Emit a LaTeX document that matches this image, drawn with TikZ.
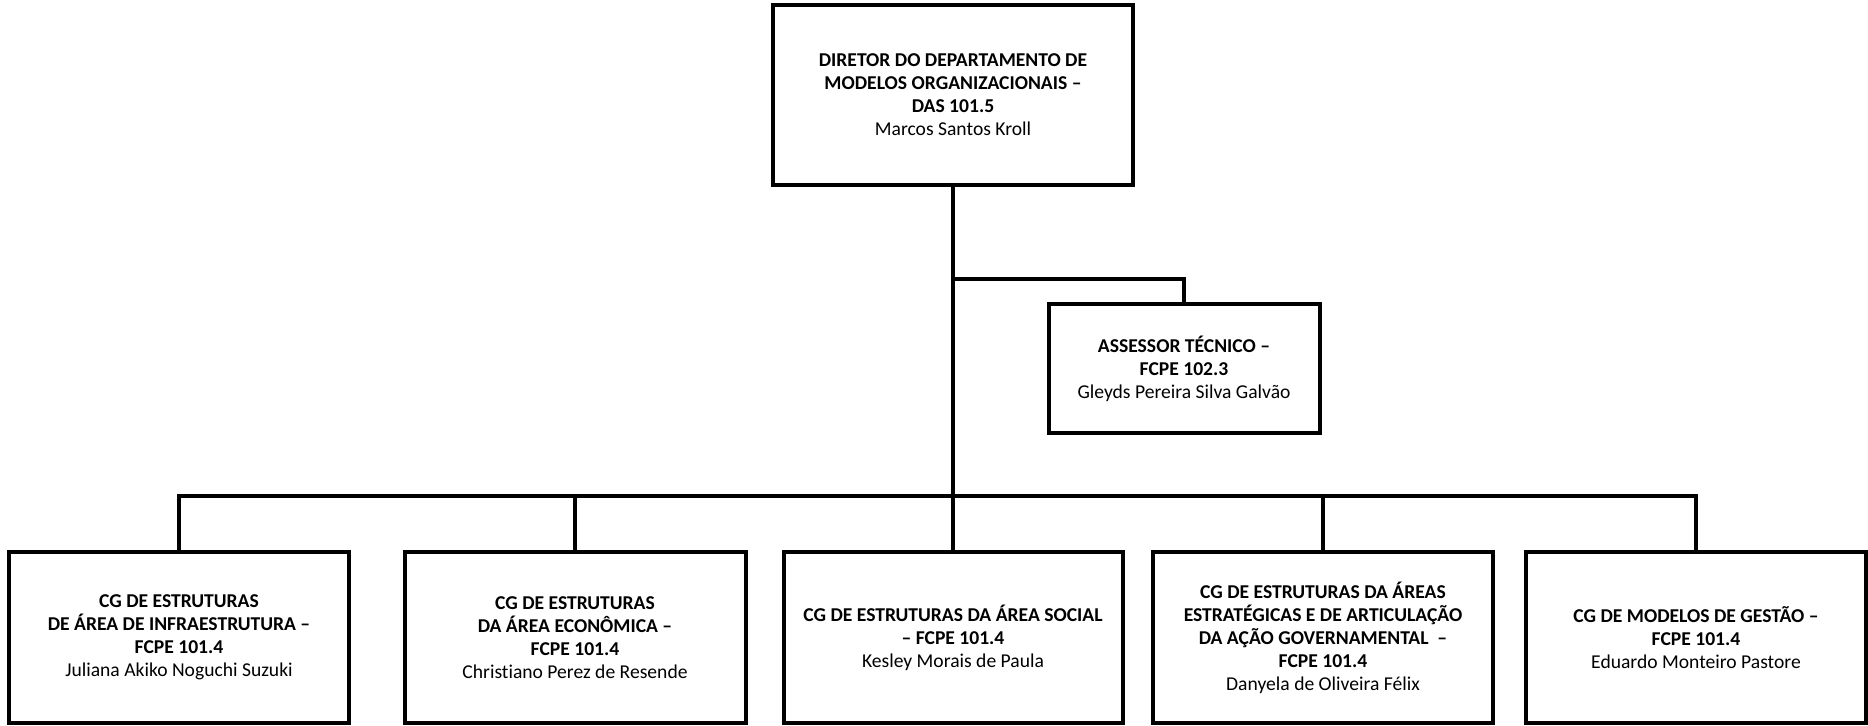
\documentclass[tikz,border=0pt]{standalone}
\usepackage{fontspec}
\setmainfont{Carlito}[Ligatures=NoCommon]
\usetikzlibrary{shadows}
\begin{document}
\begin{tikzpicture}[x=0.5pt,y=-0.5pt,
  box/.style={draw=black, line width=2pt, fill=white, rectangle, align=center,
    inner sep=0pt, outer sep=0pt,
    font=\fontsize{9.8}{11.5}\selectfont,
    drop shadow={shadow xshift=1.2pt, shadow yshift=-1.2pt, fill=black, opacity=0.25}},
  conn/.style={draw=black, line width=2pt, line join=miter}]
\useasboundingbox (0,0) rectangle (1868,725);
\node[box, minimum width=180pt, minimum height=90pt] (top) at (953,95)
  {\textbf{DIRETOR DO DEPARTAMENTO DE}\\\textbf{MODELOS ORGANIZACIONAIS –}\\\textbf{DAS 101.5}\\Marcos Santos Kroll};
\node[box, minimum width=135.5pt, minimum height=64.5pt] (asr) at (1184,368.5)
  {\textbf{ASSESSOR TÉCNICO –}\\\textbf{FCPE 102.3}\\Gleyds Pereira Silva Galvão};
\node[box, minimum width=170pt, minimum height=85.5pt] (b1) at (179,637.5)
  {\textbf{CG DE ESTRUTURAS}\\\textbf{DE ÁREA DE INFRAESTRUTURA –}\\\textbf{FCPE 101.4}\\Juliana Akiko Noguchi Suzuki};
\node[box, minimum width=170.5pt, minimum height=85.5pt] (b2) at (575,637.5)
  {\textbf{CG DE ESTRUTURAS}\\\textbf{DA ÁREA ECONÔMICA –}\\\textbf{FCPE 101.4}\\Christiano Perez de Resende};
\node[box, minimum width=169.5pt, minimum height=85.5pt] (b3) at (953,637.5)
  {\textbf{CG DE ESTRUTURAS DA ÁREA SOCIAL}\\\textbf{– FCPE 101.4}\\Kesley Morais de Paula};
\node[box, minimum width=170pt, minimum height=85.5pt] (b4) at (1323,637.5)
  {\textbf{CG DE ESTRUTURAS DA ÁREAS}\\\textbf{ESTRATÉGICAS E DE ARTICULAÇÃO}\\\textbf{DA AÇÃO GOVERNAMENTAL \ –}\\\textbf{FCPE 101.4}\\Danyela de Oliveira Félix};
\node[box, minimum width=170pt, minimum height=85.5pt] (b5) at (1696,637.5)
  {\textbf{CG DE MODELOS DE GESTÃO –}\\\textbf{FCPE 101.4}\\Eduardo Monteiro Pastore};
\coordinate (j) at (953,279);
\coordinate (bus) at (953,496);
\draw[conn] (top.south) -- (bus);
\draw[conn] (j) -| (asr.north);
\draw[conn] (b1.north) -- (b1.north |- bus) -- (b5.north |- bus) -- (b5.north);
\draw[conn] (b2.north) -- (b2.north |- bus);
\draw[conn] (b3.north) -- (b3.north |- bus);
\draw[conn] (b4.north) -- (b4.north |- bus);
\end{tikzpicture}
\end{document}
